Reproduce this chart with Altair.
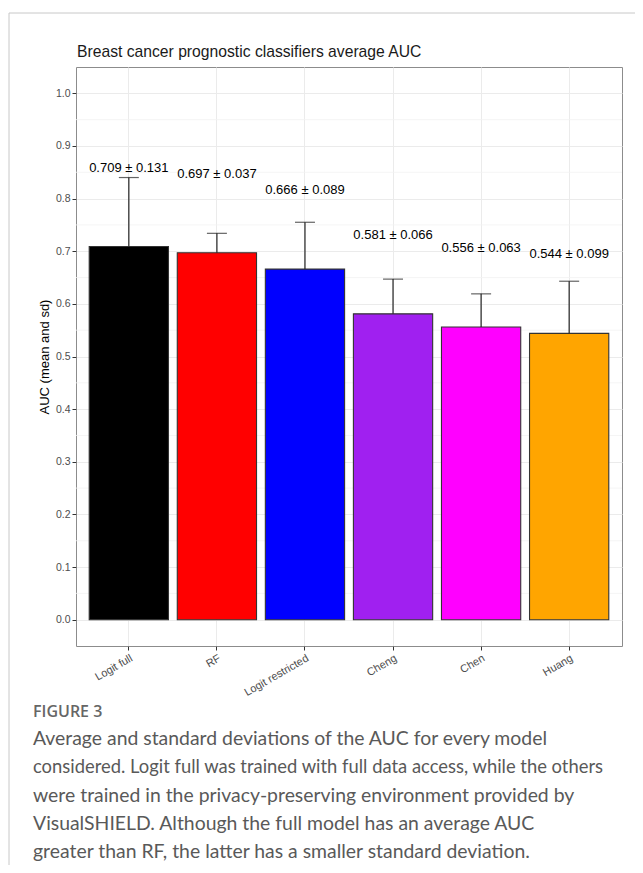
import altair as alt
import pandas as pd

models = ["Logit full", "RF", "Logit restricted", "Cheng", "Chen", "Huang"]
means = [0.709, 0.697, 0.666, 0.581, 0.556, 0.544]
sds = [0.131, 0.037, 0.089, 0.066, 0.063, 0.099]
colors = ["#000000", "#FF0000", "#0000FF", "#A020F0", "#FF00FF", "#FFA500"]
y_ticks = [0.0, 0.1, 0.2, 0.3, 0.4, 0.5, 0.6, 0.7, 0.8, 0.9, 1.0]
y_minor = [0.05, 0.15, 0.25, 0.35, 0.45, 0.55, 0.65, 0.75, 0.85, 0.95]

title_text = "Breast cancer prognostic classifiers average AUC"
fig_label = "FIGURE 3"
caption_lines = [
    "Average and standard deviations of the AUC for every model",
    "considered. Logit full was trained with full data access, while the others",
    "were trained in the privacy-preserving environment provided by",
    "VisualSHIELD. Although the full model has an average AUC",
    "greater than RF, the latter has a smaller standard deviation.",
]

df = pd.DataFrame({"model": models, "mean": means, "sd": sds})
df["upper"] = df["mean"] + df["sd"]
df["label_y"] = df["mean"] + 0.15
df["label"] = [f"{m:.3f} \u00b1 {s:.3f}" for m, s in zip(means, sds)]

FONT = "Liberation Sans"
W, H = 546, 579

x_enc = alt.X(
    "model:N",
    sort=models,
    scale=alt.Scale(paddingInner=0.1, paddingOuter=0.15),
    axis=alt.Axis(
        title=None, labelAngle=-30, labelAlign="right", labelBaseline="top",
        labelFontSize=11, labelColor="#4D4D4D", labelFont=FONT, labelPadding=2,
        tickSize=4, tickColor="#333333", domain=False, grid=True,
        gridColor="#EBEBEB", bandPosition=0.5,
    ),
)
y_scale = alt.Scale(domain=[-0.05, 1.05], nice=False, zero=False)
y_axis = alt.Axis(
    values=y_ticks, format=".1f", grid=True, gridColor="#EBEBEB",
    domain=False, tickSize=4, tickColor="#333333", labelFontSize=10.5,
    labelColor="#4D4D4D", labelFont=FONT, labelPadding=2,
    title="AUC (mean and sd)", titleFontSize=13, titleFontWeight="normal",
    titleColor="#000000", titleFont=FONT, titlePadding=4,
)

minor = alt.Chart(pd.DataFrame({"v": y_minor})).mark_rule(
    color="#F3F3F3", strokeWidth=0.8
).encode(y=alt.Y("v:Q", scale=y_scale, axis=y_axis))

base = alt.Chart(df)
bars = base.mark_bar(stroke="#333333", strokeWidth=1.1).encode(
    x=x_enc,
    y=alt.Y("mean:Q", scale=y_scale, axis=y_axis),
    y2=alt.datum(0),
    color=alt.Color("model:N", sort=models,
                    scale=alt.Scale(domain=models, range=colors), legend=None),
)
err = base.mark_rule(color="#222222", strokeWidth=1.2).encode(
    x=alt.X("model:N", sort=models), y="mean:Q", y2="upper:Q"
)
cap = base.mark_tick(color="#222222", thickness=1.2, size=20, orient="horizontal").encode(
    x=alt.X("model:N", sort=models), y="upper:Q"
)
labels = base.mark_text(fontSize=13, font=FONT, color="#000000", baseline="middle").encode(
    x=alt.X("model:N", sort=models), y="label_y:Q", text="label:N"
)

one = pd.DataFrame({"k": [0]})
deco = []
deco.append(alt.Chart(one).mark_text(
    align="left", baseline="alphabetic", fontSize=15.7, font=FONT, color="#1A1A1A"
).encode(x=alt.value(1), y=alt.value(-10), text=alt.value(title_text)))
deco.append(alt.Chart(one).mark_rule(color="#C8C8C8", strokeWidth=1).encode(
    x=alt.value(-67), y=alt.value(-54), y2=alt.value(900)))
deco.append(alt.Chart(one).mark_rule(color="#C8C8C8", strokeWidth=1).encode(
    x=alt.value(-67), x2=alt.value(600), y=alt.value(-54)))
deco.append(alt.Chart(one).mark_text(
    align="left", baseline="middle", fontSize=16, font="Open Sans",
    fontWeight=600, color="#666666"
).encode(x=alt.value(-43), y=alt.value(645), text=alt.value(fig_label)))
line_sizes = [19.4, 18.4, 19.4, 19.4, 19.4]
for i, (ln, fs) in enumerate(zip(caption_lines, line_sizes)):
    deco.append(alt.Chart(one).mark_text(
        align="left", baseline="middle", fontSize=fs, font="Lato", color="#595959"
    ).encode(x=alt.value(-43), y=alt.value(672 + 28.3 * i), text=alt.value(ln)))

chart = alt.layer(minor, bars, err, cap, labels, *deco).properties(
    width=W, height=H,
    padding={"left": 68, "top": 59, "right": 13, "bottom": 219},
    autosize=alt.AutoSizeParams(type="none"),
).configure_view(stroke="#8C8C8C", strokeWidth=1, fill="white")

chart.save("out.html", embed_options={"renderer": "svg", "actions": False})
